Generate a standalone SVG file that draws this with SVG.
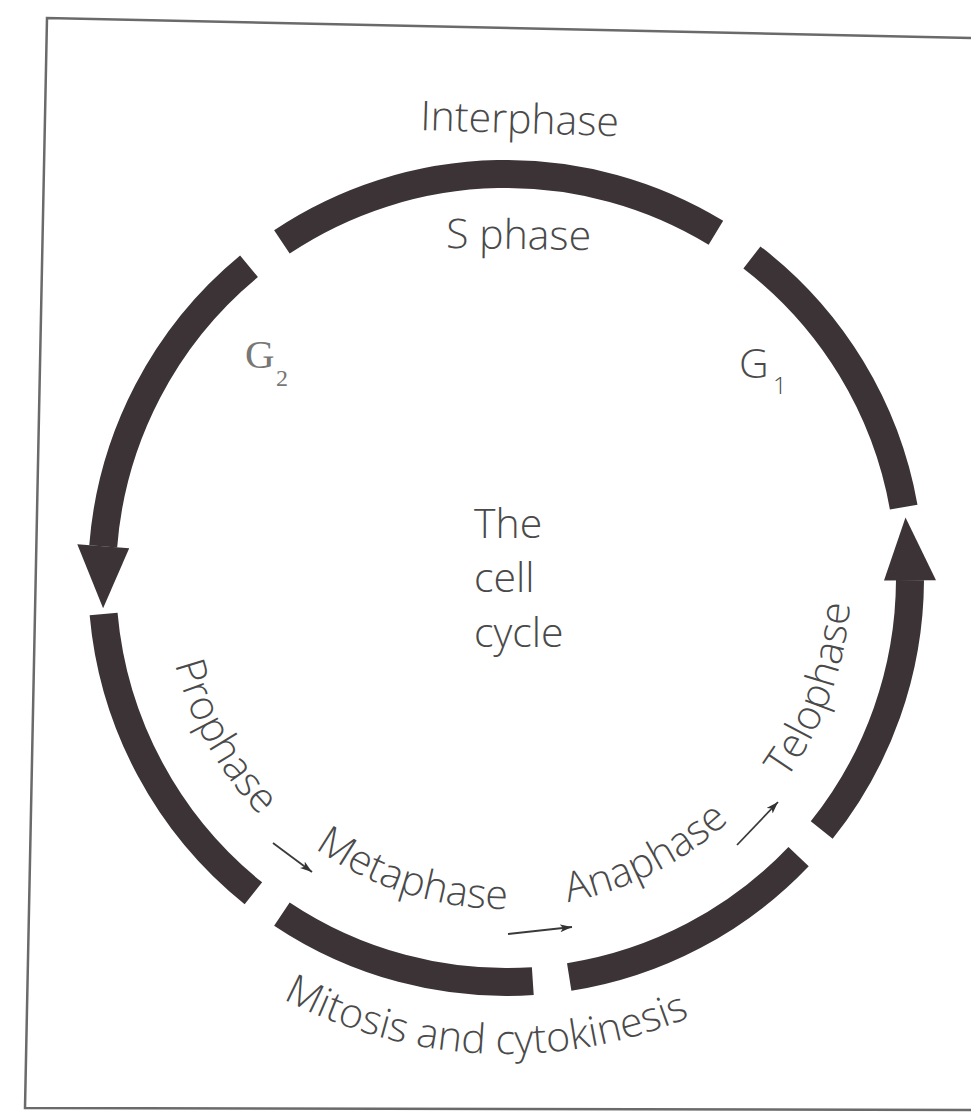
<svg xmlns="http://www.w3.org/2000/svg" width="971" height="1114" viewBox="0 0 971 1114">
<defs>
<style>
.ring{fill:none;stroke:#3b3335;stroke-width:28;stroke-linecap:butt}
.head{fill:#3b3335}
.lbl{font-family:"Open Sans","Liberation Sans",sans-serif;font-size:41px;font-weight:300;fill:#4a4a4a}
.serif{font-family:"Liberation Serif","DejaVu Serif",serif;font-weight:400;fill:#777}
.sub{font-size:24px}
.conn{stroke:#3a3a3a;stroke-width:1.8;fill:none}
.frame{fill:none;stroke:#6a6a6a;stroke-width:2.5}
</style>
<marker id="ah" markerUnits="userSpaceOnUse" markerWidth="14" markerHeight="10" refX="12" refY="4" orient="auto"><path d="M0,0 L12,4 L0,8 L3,4 z" fill="#333"/></marker>
<path id="p-pro" d="M169.9,514.5 A342,342 0 0 0 385.1,897.9"/>
<path id="p-meta" d="M226.8,755.8 A331,331 0 0 0 632.7,883.8"/>
<path id="p-ana" d="M430.1,899.1 A330,330 0 0 0 809.1,708.5"/>
<path id="p-telo" d="M678.5,876.8 A345,345 0 0 0 830.2,460"/>
<path id="p-mito" d="M83.4,797.1 A476,476 0 0 0 907.1,834.4"/>
</defs>
<rect width="971" height="1114" fill="#fff"/>
<path class="frame" d="M971,38 L47,18 L25,1108 L971,1110"/>

<g id="interphase">
<text class="lbl" x="420" y="130" transform="rotate(1.8 423 130)">Interphase</text>
</g>

<g id="s-phase">
<path class="ring" d="M715.9,232.8 A404,404 0 0 0 281.9,241.9"/>
<text class="lbl" x="446" y="248" transform="rotate(0.8 446 248)">S phase</text>
</g>

<g id="g1">
<path class="ring" d="M903.7,507.1 A404,404 0 0 0 751.9,257.5"/>
<text class="lbl" x="739" y="378">G<tspan class="sub" x="773" y="394">1</tspan></text>
</g>

<g id="g2">
<path class="ring" d="M249,266.3 A404,404 0 0 0 103.2,546.3"/>
<polygon class="head" points="129.2,548.3 77.3,544.3 103.1,608.3"/>
<text class="lbl serif" x="245" y="368" font-size="40">G<tspan class="sub" x="276" y="386">2</tspan></text>
</g>

<g id="prophase">
<path class="ring" d="M103.6,613.9 A404,404 0 0 0 253.4,893.3"/>
<text class="lbl" font-size="39"><textPath href="#p-pro" startOffset="50%" text-anchor="middle">Prophase</textPath></text>
</g>

<g id="metaphase">
<path class="ring" d="M281.9,914.1 A404,404 0 0 0 532.8,981.1"/>
<text class="lbl"><textPath href="#p-meta" startOffset="50%" text-anchor="middle">Metaphase</textPath></text>
</g>

<g id="anaphase">
<path class="ring" d="M569.2,977 A404,404 0 0 0 798.6,856.6"/>
<text class="lbl"><textPath href="#p-ana" startOffset="50%" text-anchor="middle">Anaphase</textPath></text>
</g>

<g id="telophase">
<path class="ring" d="M821.7,830.1 A404,404 0 0 0 910,580.1"/>
<polygon class="head" points="884,580.5 936,580.3 905.5,517.6"/>
<text class="lbl" font-size="40"><textPath href="#p-telo" startOffset="50%" text-anchor="middle">Telophase</textPath></text>
</g>

<g id="mitosis">
<text class="lbl"><textPath href="#p-mito" startOffset="50%" text-anchor="middle">Mitosis and cytokinesis</textPath></text>
</g>

<g id="cell-cycle">
<text class="lbl" x="474" y="538">The</text>
<text class="lbl" x="474" y="592">cell</text>
<text class="lbl" x="474" y="647">cycle</text>
</g>

<g id="connectors">
<line class="conn" x1="273" y1="843" x2="312" y2="872" marker-end="url(#ah)"/>
<line class="conn" x1="508" y1="934" x2="572" y2="927" marker-end="url(#ah)"/>
<line class="conn" x1="737" y1="845" x2="778" y2="802" marker-end="url(#ah)"/>
</g>
</svg>
